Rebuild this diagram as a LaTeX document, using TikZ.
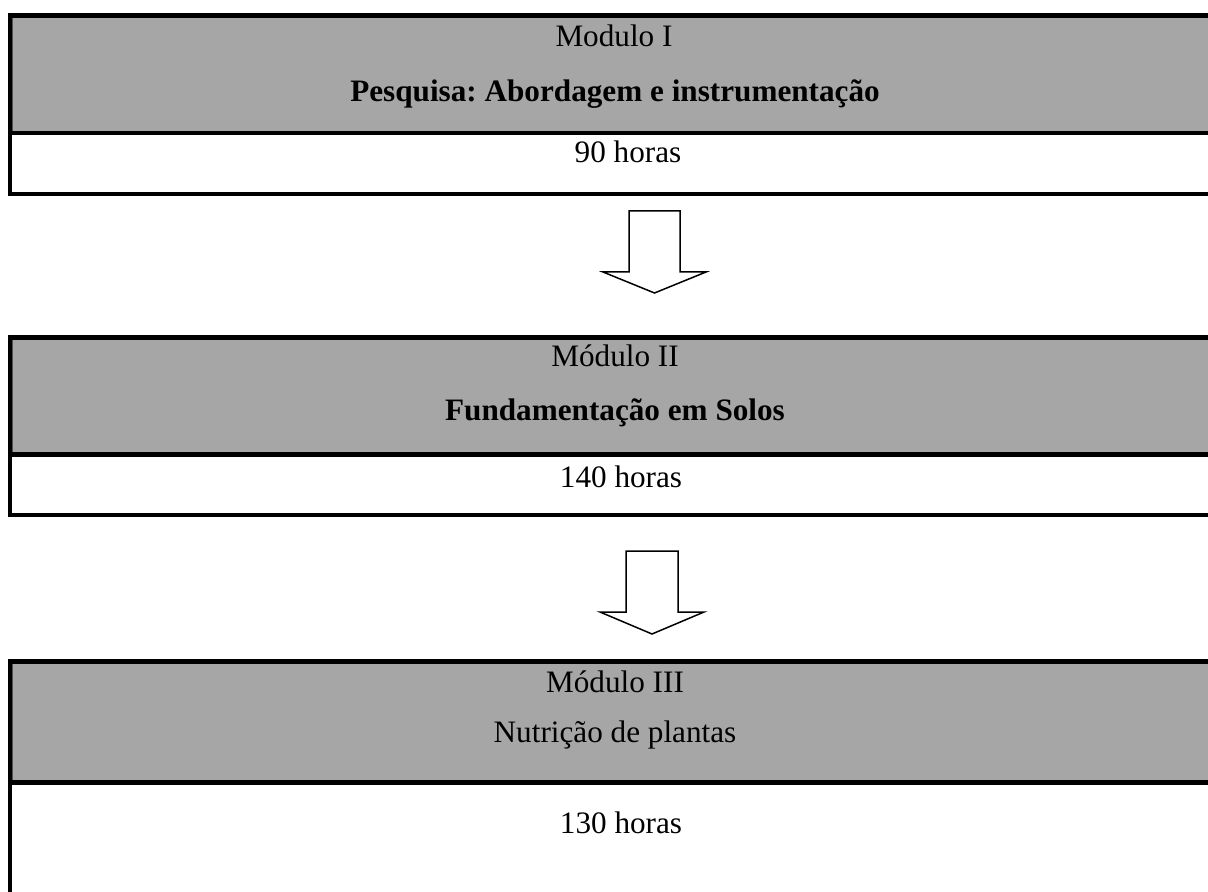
\documentclass[tikz,border=0pt]{standalone}
\usepackage{fontspec}
\setmainfont{Liberation Serif}
\frenchspacing
\definecolor{cellgray}{HTML}{A6A6A6}
\definecolor{edgegray}{HTML}{505050}
\begin{document}
\begin{tikzpicture}[x=0.5pt,y=-0.5pt,
  frame/.style={line width=2.25pt,draw=black},
  txt/.style={anchor=base,inner sep=0pt,font=\fontsize{15.6}{18}\selectfont},
  btxt/.style={txt,font=\fontsize{15.6}{18}\selectfont\bfseries},
  blockarrow/.style={draw=black,line width=0.75pt,fill=white,line join=miter}]
\useasboundingbox (0,0) rectangle (1208,892);
\clip (0,0) rectangle (1208,892);
% ---- box 1
\fill[cellgray] (10,15.5) rectangle (1220,133);
\draw[edgegray,line width=0.6pt] (12.6,18) -- (12.6,131);
\draw[frame] (1220,15.5) -| (10,194) -- (1220,194);
\draw[frame] (10,133) -- (1220,133);
\node[txt] (m1) at (614,47) {Modulo I};
\node[btxt] (t1) at (615,101.7) {Pesquisa: Abordagem e instrumentação};
\node[txt] (h1) at (628,163) {90 horas};
% ---- box 2
\fill[cellgray] (10,337.5) rectangle (1220,454.5);
\draw[edgegray,line width=0.6pt] (12.6,340) -- (12.6,452.5);
\draw[frame] (1220,337.5) -| (10,515) -- (1220,515);
\draw[frame] (10,454.5) -- (1220,454.5);
\node[txt] (m2) at (615,367) {Módulo II};
\node[btxt] (t2) at (615,421) {Fundamentação em Solos};
\node[txt] (h2) at (621,487) {140 horas};
% ---- box 3
\fill[cellgray] (10,661.5) rectangle (1220,782.5);
\draw[edgegray,line width=0.6pt] (12.6,664) -- (12.6,780.5);
\draw[frame] (1220,661.5) -| (10,900);
\draw[frame] (10,782.5) -- (1220,782.5);
\node[txt] (m3) at (615,692) {Módulo III};
\node[txt] (t3) at (615,742) {Nutrição de plantas};
\node[txt] (h3) at (621,833) {130 horas};
% ---- block arrows
\coordinate (a1) at (654.5,211);
\draw[blockarrow] (a1) ++(-25.5,0) -- ++(0,61) -- ++(-26,0) -- (654.5,293)
  -- ++(51.5,-21) -- ++(-26,0) -- ++(0,-61) -- cycle;
\coordinate (a2) at (652,551);
\draw[blockarrow] (a2) ++(-26,0) -- ++(0,61) -- ++(-26,0) -- (652,634)
  -- ++(52,-22) -- ++(-26,0) -- ++(0,-61) -- cycle;
\end{tikzpicture}
\end{document}
